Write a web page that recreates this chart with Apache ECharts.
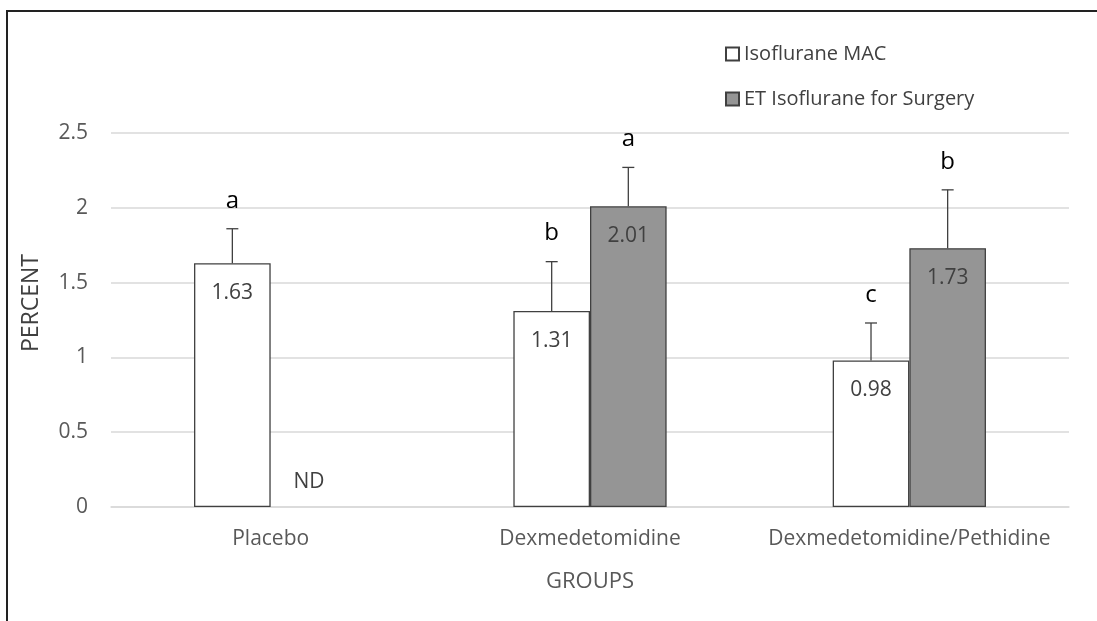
<!DOCTYPE html>
<html>
<head>
<meta charset="utf-8">
<script src="https://cdn.jsdelivr.net/npm/echarts@6/dist/echarts.min.js"></script>
<style>
html,body{margin:0;padding:0;background:#fff;}
#chart{width:1097px;height:621px;}
</style>
</head>
<body>
<div id="chart"></div>
<script>
const categories = ['Placebo', 'Dexmedetomidine', 'Dexmedetomidine/Pethidine'];
const seriesNames = ['Isoflurane MAC', 'ET Isoflurane for Surgery'];
const macValues = [1.63, 1.31, 0.98];
const surgeryValues = [null, 2.01, 1.73];
const macErrors = [0.23, 0.33, 0.25];
const surgeryErrors = [null, 0.26, 0.39];
const macLetters = ['a', 'b', 'c'];
const surgeryLetters = ['ND', 'a', 'b'];
const yTicks = [0, 0.5, 1, 1.5, 2, 2.5];

const FONT = '"Open Sans", sans-serif';
const BAR_FRAC = 0.24;

function errData(values, errors, letters) {
  return categories.map((c, i) => [i, values[i], errors[i], letters[i]]);
}

function letters(side) { return side < 0 ? macLetters : surgeryLetters; }

function errRender(side) {
  return function (params, api) {
    const i = api.value(0);
    const v = api.value(1);
    const e = api.value(2);
    const letter = letters(side)[i];
    const band = api.size([1, 0])[0];
    const bw = band * BAR_FRAC;
    const base = api.coord([i, 0]);
    const cx = base[0] + side * bw / 2;
    const children = [];
    if (v == null || isNaN(v)) {
      children.push({
        type: 'text',
        style: { x: cx, y: base[1] - 25, text: letter, fill: '#404040',
          font: '21px ' + FONT, align: 'center', verticalAlign: 'middle' }
      });
      return { type: 'group', children };
    }
    const top = api.coord([i, v])[1];
    const hi = api.coord([i, v + e])[1];
    const cap = 6;
    children.push({ type: 'line', shape: { x1: cx, y1: top, x2: cx, y2: hi },
      style: { stroke: '#404040', lineWidth: 1.3 } });
    children.push({ type: 'line', shape: { x1: cx - cap, y1: hi, x2: cx + cap, y2: hi },
      style: { stroke: '#404040', lineWidth: 1.3 } });
    children.push({ type: 'text', style: { x: cx, y: hi - 28, text: letter, fill: '#000',
      font: '24px ' + FONT, align: 'center', verticalAlign: 'middle' } });
    return { type: 'group', children };
  };
}

const chart = echarts.init(document.getElementById('chart'));
chart.setOption({
  animation: false,
  backgroundColor: '#fff',
  textStyle: { fontFamily: FONT },
  grid: { left: 111, right: 28, top: 133, bottom: 114 },
  legend: {
    orient: 'vertical', left: 720, top: 39, itemGap: 25,
    itemWidth: 13, itemHeight: 13, icon: 'rect',
    data: seriesNames,
    textStyle: { fontSize: 20, color: '#404040', fontFamily: FONT }
  },
  xAxis: {
    type: 'category', data: categories,
    name: 'GROUPS', nameLocation: 'middle', nameGap: 64,
    nameTextStyle: { fontSize: 22, color: '#595959' },
    axisLine: { lineStyle: { color: '#d9d9d9', width: 1.5 } },
    axisTick: { show: false },
    axisLabel: { fontSize: 21, color: '#595959', margin: 22, interval: 0, hideOverlap: false }
  },
  yAxis: {
    type: 'value', min: yTicks[0], max: yTicks[yTicks.length - 1], interval: 0.5,
    axisLine: { show: false }, axisTick: { show: false },
    axisLabel: { fontSize: 21, color: '#595959', margin: 23 },
    splitLine: { lineStyle: { color: '#d9d9d9', width: 1.5 } }
  },
  graphic: [
    { type: 'rect', shape: { x: 7, y: 11, width: 1200, height: 700 },
      style: { fill: 'none', stroke: '#222', lineWidth: 2 }, silent: true, z: -1 },
    { type: 'text', x: 31, y: 303, rotation: Math.PI / 2,
      style: { text: 'PERCENT', fill: '#404040', font: '23px ' + FONT,
        align: 'center', verticalAlign: 'middle' } }
  ],
  series: [
    {
      name: seriesNames[0], type: 'bar', data: macValues,
      barWidth: (BAR_FRAC * 100) + '%', barGap: '0%',
      itemStyle: { color: '#ffffff', borderColor: '#404040', borderWidth: 1.3 },
      label: { show: true, position: 'insideTop', distance: 19, fontSize: 21, color: '#404040',
        formatter: p => p.value.toFixed(2) }
    },
    {
      name: seriesNames[1], type: 'bar', data: surgeryValues,
      barWidth: (BAR_FRAC * 100) + '%', barGap: '0%',
      itemStyle: { color: '#959595', borderColor: '#404040', borderWidth: 1.3 },
      label: { show: true, position: 'insideTop', distance: 19, fontSize: 21, color: '#404040',
        formatter: p => p.value.toFixed(2) }
    },
    {
      type: 'custom', renderItem: errRender(-1), data: errData(macValues, macErrors, macLetters),
      encode: { x: 0, y: 1 }, z: 5, silent: true
    },
    {
      type: 'custom', renderItem: errRender(1), data: errData(surgeryValues, surgeryErrors, surgeryLetters),
      encode: { x: 0, y: 1 }, z: 5, silent: true
    }
  ]
});
</script>
</body>
</html>
